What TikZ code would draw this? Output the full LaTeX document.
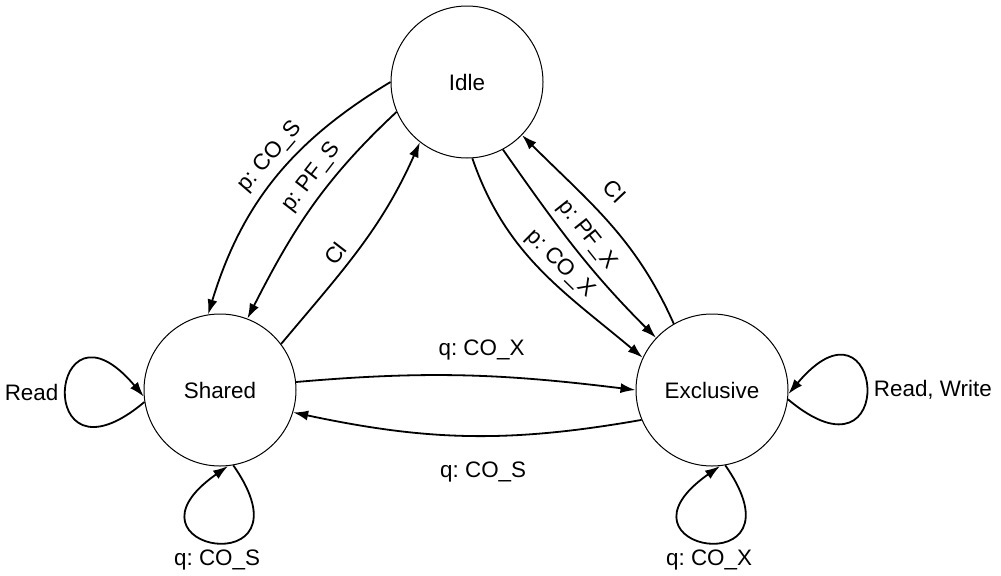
\documentclass[tikz,border=0pt]{standalone}
\usepackage{fontspec}
\setmainfont{Liberation Sans}
\usetikzlibrary{arrows.meta}
\frenchspacing
\begin{document}
\begin{tikzpicture}[x=0.5pt,y=0.5pt,>={Latex[length=7.5pt,width=5pt]},
    font=\fontsize{11.2}{13.4}\selectfont,
    state/.style={circle,draw,line width=0.5pt,minimum size=76pt,inner sep=0pt},
    trans/.style={->,line width=0.9pt}]
  \useasboundingbox (0,0) rectangle (1001,575);
  % states
  \node[state] (idle) at (467,493) {Idle};
  \node[state] (shared) at (220,185) {Shared};
  \node[state] (excl) at (712,185) {Exclusive};
  % idle <-> shared
  \draw[trans] (idle.180) to[out=211,in=73] node[sloped,above,pos=0.45]{p: CO\_S} (shared.99);
  \draw[trans] (idle.203) to[out=223,in=63] node[sloped,above,pos=0.4]{p: PF\_S} (shared.69);
  \draw[trans] (shared.37) to[out=50,in=246] node[sloped,above,pos=0.42]{CI} (idle.232);
  % idle <-> exclusive
  \draw[trans] (idle.274) to[out=289,in=140] node[sloped,above,pos=0.54]{p: CO\_X} (excl.155);
  \draw[trans] (idle.298) to[out=305,in=135] node[sloped,above,pos=0.49]{p: PF\_X} (excl.137);
  \draw[trans] (excl.120) to[out=114,in=315] node[sloped,above=5pt,pos=0.58]{CI} (idle.316);
  % shared <-> exclusive
  \draw[trans] (shared.6) to[out=5,in=173] node[above=4pt,pos=0.55]{q: CO\_X} (excl.180);
  \draw[trans] (excl.203) to[out=190,in=348] node[below=9pt,pos=0.45]{q: CO\_S} (shared.343);
  % self loops
  \draw[trans] (shared.189) .. controls +(220:148) and +(130:148) .. node[left,pos=0.5]{Read} (shared.185);
  \draw[trans] (shared.280) .. controls +(305:147) and +(215:147) .. node[below,pos=0.5]{q: CO\_S} (shared.276);
  \draw[trans] (excl.-7) .. controls +(-40:148) and +(50:148) .. node[right,pos=0.5]{Read, Write} (excl.-3);
  \draw[trans] (excl.280) .. controls +(305:147) and +(215:147) .. node[below,pos=0.5]{q: CO\_X} (excl.276);
\end{tikzpicture}
\end{document}
